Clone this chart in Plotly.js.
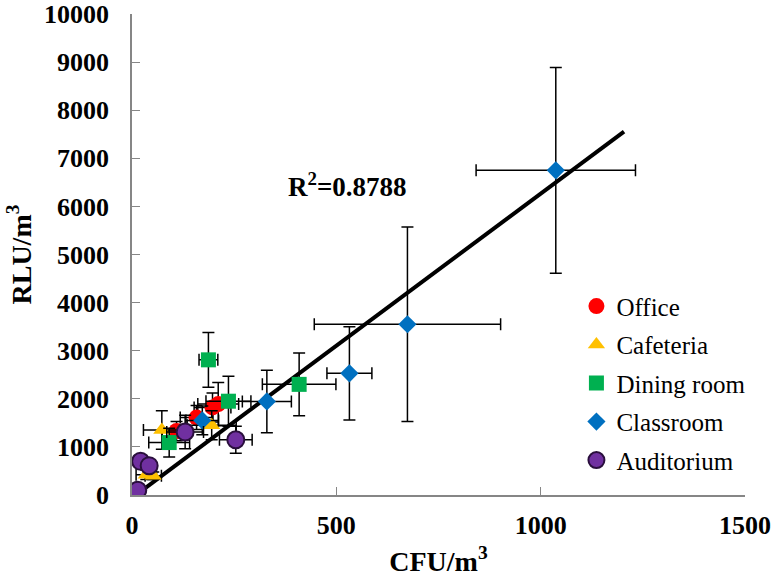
<!DOCTYPE html>
<html>
<head>
<meta charset="utf-8">
<script src="https://cdn.plot.ly/plotly-3.0.1.min.js"></script>
<style>
  body { margin: 0; background: #fff; }
  #chart { width: 774px; height: 577px; }
</style>
</head>
<body>
<div id="chart"></div>
<script>
// CFU/m3 (x) vs RLU/m3 (y), with error bars, per location type
var officeX = [109, 158, 197, 211];
var officeY = [1330, 1610, 1820, 1890];
var officeXErr = [35, 40, 45, 50];
var officeYErr = [200, 250, 300, 450];

var cafeteriaX = [73, 195, 35, 52];
var cafeteriaY = [1350, 1450, 420, 400];
var cafeteriaXErr = [45, 60, 25, 20];
var cafeteriaYErr = [400, 300, 100, 80];

var diningX = [187, 409, 236, 91];
var diningY = [2810, 2300, 1950, 1090];
var diningXErr = [23, 90, 55, 50];
var diningYErr = [570, 650, 520, 300];

var classroomX = [1037, 674, 532, 330, 172];
var classroomY = [6750, 3550, 2530, 1945, 1550];
var classroomXErr = [195, 228, 55, 60, 40];
var classroomYErr = [2140, 2020, 970, 650, 300];

var auditoriumX = [130, 254, 21, 42, 14];
var auditoriumY = [1310, 1150, 700, 610, 100];
var auditoriumXErr = [45, 40, 15, 15, 10];
var auditoriumYErr = [350, 280, 80, 80, 50];

// linear trendline end points
var trendX = [15, 1204];
var trendY = [35, 7556];

// axis ticks
var xTicks = [0, 500, 1000, 1500];
var yTicks = [0, 1000, 2000, 3000, 4000, 5000, 6000, 7000, 8000, 9000, 10000];

var serif = "Liberation Serif";

function errBars(arr) {
  return { type: 'data', array: arr, visible: true, color: '#000', thickness: 1.5, width: 6 };
}

function series(name, xs, ys, xe, ye, marker) {
  return {
    x: xs, y: ys,
    error_x: errBars(xe),
    error_y: errBars(ye),
    mode: 'markers',
    type: 'scatter',
    name: name,
    legendgroup: name,
    marker: marker
  };
}

var trend = {
  x: trendX, y: trendY,
  mode: 'lines',
  type: 'scatter',
  line: { color: '#000', width: 4 },
  showlegend: false,
  hoverinfo: 'skip'
};

var data = [
  trend,
  series('Office', officeX, officeY, officeXErr, officeYErr,
    { symbol: 'circle', size: 16, color: '#ff0000' }),
  series('Cafeteria', cafeteriaX, cafeteriaY, cafeteriaXErr, cafeteriaYErr,
    { symbol: 'triangle-up', size: 15, color: '#ffc000' }),
  series('Dining room', diningX, diningY, diningXErr, diningYErr,
    { symbol: 'square', size: 15, color: '#00b050' }),
  series('Classroom', classroomX, classroomY, classroomXErr, classroomYErr,
    { symbol: 'diamond', size: 14, color: '#0070c0' }),
  series('Auditorium', auditoriumX, auditoriumY, auditoriumXErr, auditoriumYErr,
    { symbol: 'circle', size: 17, color: '#7030a0', line: { color: '#2a0f3d', width: 2 } })
];

var layout = {
  width: 774,
  height: 577,
  margin: { l: 132, r: 29, t: 14, b: 82 },
  paper_bgcolor: '#fff',
  plot_bgcolor: '#fff',
  showlegend: true,
  legend: {
    x: 0.725, y: 0.44, xanchor: 'left', yanchor: 'top',
    font: { family: serif, size: 25, color: '#000' },
    tracegroupgap: 3,
    bgcolor: 'rgba(0,0,0,0)'
  },
  xaxis: {
    range: [0, 1500],
    tickvals: xTicks,
    ticktext: xTicks.map(String),
    ticks: 'inside', ticklen: 8, tickcolor: '#868686',
    showline: true, linecolor: '#868686', linewidth: 1.5,
    showgrid: false, zeroline: false,
    ticklabelstandoff: 6,
    tickfont: { family: serif, size: 26, weight: 'bold', color: '#000' },
    title: { text: 'CFU/m<sup>3</sup>', font: { family: serif, size: 28, weight: 'bold', color: '#000' }, standoff: 12 }
  },
  yaxis: {
    range: [0, 10000],
    tickvals: yTicks,
    ticktext: yTicks.map(String),
    ticks: 'inside', ticklen: 8, tickcolor: '#868686',
    showline: true, linecolor: '#868686', linewidth: 1.5,
    showgrid: false, zeroline: false,
    ticklabelstandoff: 16,
    ticklabeloverflow: 'allow',
    tickfont: { family: serif, size: 26, weight: 'bold', color: '#000' },
    title: { text: 'RLU/m<sup>3</sup>', font: { family: serif, size: 28, weight: 'bold', color: '#000' }, standoff: 4 }
  },
  annotations: [{
    x: 528, y: 6446, xref: 'x', yref: 'y',
    text: 'R<sup>2</sup>=0.8788',
    showarrow: false,
    font: { family: serif, size: 27, weight: 'bold', color: '#000' }
  }]
};

Plotly.newPlot('chart', data, layout, { displayModeBar: false });
</script>
</body>
</html>
